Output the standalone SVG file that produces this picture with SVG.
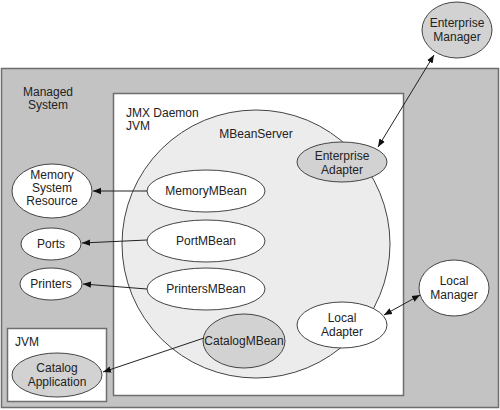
<svg xmlns="http://www.w3.org/2000/svg" width="500" height="410" viewBox="0 0 500 410">
<style>
text{font-family:"Liberation Sans",Arial,sans-serif;font-size:12px;fill:#222}
.c{text-anchor:middle}
.n{stroke:#444;stroke-width:1}
.w{fill:#fff}
.g{fill:#d2d2d2}
.ln{stroke:#222;stroke-width:1;fill:none}
</style>
<defs>
<marker id="ah" viewBox="0 0 10 10" refX="10" refY="5" markerWidth="8" markerHeight="8" markerUnits="userSpaceOnUse" orient="auto-start-reverse">
<path d="M0,1 L10,5 L0,9 z" fill="#111"/>
</marker>
</defs>
<g id="managed-system">
<rect x="1.5" y="68.5" width="497" height="339" fill="#c3c3c3" stroke="#6e6e6e" stroke-width="1.5"/>
<text x="48" y="96" class="c">Managed</text>
<text x="48" y="109" class="c">System</text>
</g>
<g id="jmx-daemon">
<rect x="113.5" y="93.5" width="290" height="302" fill="#fff" stroke="#6e6e6e" stroke-width="1.5"/>
<text x="126" y="117">JMX Daemon</text>
<text x="126" y="130">JVM</text>
</g>
<g id="mbeanserver">
<circle cx="256" cy="244" r="134" fill="#ececec" stroke="#444"/>
<text x="256" y="138" class="c">MBeanServer</text>
</g>
<g id="jvm">
<rect x="7.5" y="328.5" width="99" height="73" fill="#fff" stroke="#6e6e6e" stroke-width="1.5"/>
<text x="15" y="346">JVM</text>
</g>
<g id="enterprise-manager">
<ellipse class="n g" cx="457" cy="30" rx="35" ry="28"/>
<text x="457" y="27" class="c">Enterprise</text>
<text x="457" y="41" class="c">Manager</text>
</g>
<g id="enterprise-adapter">
<ellipse class="n g" cx="342" cy="162" rx="45" ry="20"/>
<text x="342" y="160" class="c">Enterprise</text>
<text x="342" y="174" class="c">Adapter</text>
</g>
<g id="memorymbean">
<ellipse class="n w" cx="206" cy="191" rx="59" ry="21"/>
<text x="206" y="195" class="c">MemoryMBean</text>
</g>
<g id="portmbean">
<ellipse class="n w" cx="206" cy="241" rx="59" ry="21"/>
<text x="206" y="245" class="c">PortMBean</text>
</g>
<g id="printersmbean">
<ellipse class="n w" cx="206" cy="289" rx="59" ry="21"/>
<text x="206" y="293" class="c">PrintersMBean</text>
</g>
<g id="catalogmbean">
<ellipse class="n g" cx="244" cy="341" rx="41" ry="27"/>
<text x="244" y="345" class="c">CatalogMBean</text>
</g>
<g id="local-adapter">
<ellipse class="n w" cx="342" cy="325" rx="45" ry="23"/>
<text x="342" y="322" class="c">Local</text>
<text x="342" y="336" class="c">Adapter</text>
</g>
<g id="local-manager">
<ellipse class="n w" cx="454" cy="288" rx="35" ry="28"/>
<text x="454" y="285" class="c">Local</text>
<text x="454" y="299" class="c">Manager</text>
</g>
<g id="memory-system-resource">
<ellipse class="n w" cx="52" cy="191" rx="40" ry="27"/>
<text x="52" y="179" class="c">Memory</text>
<text x="52" y="192" class="c">System</text>
<text x="52" y="205" class="c">Resource</text>
</g>
<g id="ports">
<ellipse class="n w" cx="51" cy="244" rx="30" ry="16"/>
<text x="51" y="248" class="c">Ports</text>
</g>
<g id="printers">
<ellipse class="n w" cx="51" cy="284" rx="31" ry="16"/>
<text x="51" y="288" class="c">Printers</text>
</g>
<g id="catalog-application">
<ellipse class="n g" cx="57" cy="375" rx="45" ry="22"/>
<text x="57" y="372" class="c">Catalog</text>
<text x="57" y="386" class="c">Application</text>
</g>
<g id="connectors">
<line class="ln" x1="147" y1="191" x2="93" y2="191" marker-end="url(#ah)"/>
<line class="ln" x1="147" y1="240" x2="82" y2="243" marker-end="url(#ah)"/>
<line class="ln" x1="147" y1="289" x2="83" y2="284" marker-end="url(#ah)"/>
<line class="ln" x1="204" y1="338" x2="103" y2="372" marker-end="url(#ah)"/>
<line class="ln" x1="378" y1="147" x2="434" y2="55" marker-start="url(#ah)" marker-end="url(#ah)"/>
<line class="ln" x1="384" y1="315" x2="420" y2="295" marker-start="url(#ah)" marker-end="url(#ah)"/>
</g>
</svg>
